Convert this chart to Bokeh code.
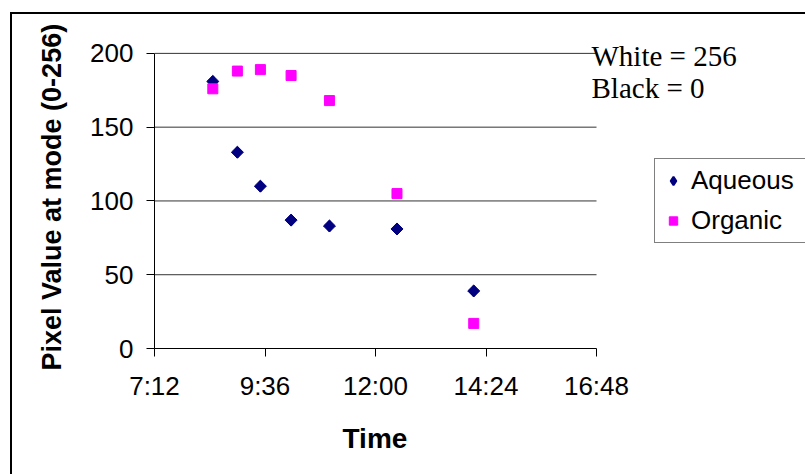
import numpy as np
from bokeh.plotting import figure
from bokeh.models import (FixedTicker, Legend, LegendItem, Label, Title,
                          ColumnDataSource)
from bokeh.embed import file_html
from bokeh.resources import INLINE

# ---- data ----
times = ["8:28", "9:00", "9:30", "10:10", "11:00", "12:28", "14:08"]
aqueous = [181, 133, 110, 87, 83, 81, 39]
organic = [176, 188, 189, 185, 168, 105, 17]
x_tick_labels = ["7:12", "9:36", "12:00", "14:24", "16:48"]
y_ticks = [0, 50, 100, 150, 200]


def to_min(s):
    h, m = s.split(":")
    return int(h) * 60 + int(m)


xm = [to_min(t) for t in times]
x_ticks = [to_min(t) for t in x_tick_labels]

# ---- layout (page pixels) ----
OX, OY = 12, 14                  # figure offset inside the page (chart border)
W, H = 805 - OX, 474 - OY
AX_L, AX_R, AX_T, AX_B = 154, 596, 53, 349   # axis extents on the page
FL = AX_L - OX                   # frame left in figure coords
FB = AX_B - OY                   # frame bottom in figure coords
frame_w = W - FL
frame_h = FB
px_per_x = (AX_R - AX_L) / (x_ticks[-1] - x_ticks[0])
px_per_y = (AX_B - AX_T) / (y_ticks[-1] - y_ticks[0])
x_end = x_ticks[0] + frame_w / px_per_x
y_end = y_ticks[0] + frame_h / px_per_y

p = figure(width=W, height=H, output_backend="svg", toolbar_location=None,
           title=None,
           x_range=(x_ticks[0], x_end), y_range=(y_ticks[0], y_end),
           min_border_left=FL, min_border_right=0,
           min_border_top=0, min_border_bottom=H - FB,
           margin=(OY, 0, 0, OX),
           styles={"box-shadow": "-2px -2px 0 0 black, -2px 0 0 0 black, 0 -2px 0 0 black"})
p.outline_line_color = None
p.background_fill_color = "white"
p.border_fill_color = "white"

# axes
for ax in (p.xaxis[0], p.yaxis[0]):
    ax.axis_line_color = "black"
    ax.axis_line_width = 1
    ax.major_tick_line_color = "black"
    ax.major_tick_out = 8
    ax.major_tick_in = 0
    ax.minor_tick_line_color = None
    ax.major_label_text_font = "Liberation Sans"
    ax.major_label_text_font_size = "26px"
    ax.major_label_text_color = "black"

p.xaxis[0].ticker = FixedTicker(ticks=x_ticks)
p.xaxis[0].bounds = (x_ticks[0], x_ticks[-1])
p.xaxis[0].major_label_overrides = {t: l for t, l in zip(x_ticks, x_tick_labels)}
p.xaxis[0].major_label_standoff = 14
p.yaxis[0].ticker = FixedTicker(ticks=y_ticks)
p.yaxis[0].bounds = (y_ticks[0], y_ticks[-1])
p.yaxis[0].major_label_standoff = 13

p.xgrid.visible = False
p.ygrid.visible = False
# horizontal gridlines across the axis extent only
p.segment(x0=x_ticks[0], x1=x_ticks[-1], y0=y_ticks[1:], y1=y_ticks[1:],
          line_color="#333333", line_width=1)

src = ColumnDataSource(dict(x=xm, aq=aqueous, org=organic))
# diamond-marker copy of the aqueous series, hidden under the rotated squares;
# used as the legend swatch (legend draws markers unrotated)
lg_aq = p.scatter("x", "aq", source=src, marker="diamond", size=10,
                  fill_color="#000080", line_color="#000080", line_width=2)
r_aq = p.scatter("x", "aq", source=src, marker="square", angle=np.pi / 4, size=8.5,
                 fill_color="#000080", line_color="#000080")
r_org = p.scatter("x", "org", source=src, marker="square", size=10,
                  fill_color="#FF00FF", line_color="#FF00FF")

legend = Legend(items=[LegendItem(label="Aqueous", renderers=[lg_aq]),
                       LegendItem(label="Organic", renderers=[r_org])],
                location=(654 - AX_L, AX_B - 244))
legend.label_text_font = "Liberation Sans"
legend.label_text_font_size = "26px"
legend.label_text_color = "black"
legend.border_line_color = "black"
legend.border_line_width = 1
legend.background_fill_color = "white"
legend.background_fill_alpha = 1
legend.glyph_width = 24
legend.glyph_height = 21
legend.label_height = 28
legend.label_width = 130
legend.spacing = 9
legend.padding = 6
legend.margin = 0
legend.label_standoff = 6
p.add_layout(legend, "center")

# annotation text
for txt, base in (("White = 256", 56), ("Black = 0", 88)):
    p.add_layout(Label(x=591 - AX_L, y=AX_B - base, x_units="screen", y_units="screen",
                       text=txt, text_font="Liberation Serif", text_font_size="29px",
                       text_color="black", text_baseline="alphabetic", text_align="left"))

# axis titles
p.add_layout(Title(text="Time", align="left", offset=342 - AX_L,
                   vertical_align="top", standoff=38,
                   text_font="Liberation Sans", text_font_style="bold",
                   text_font_size="28px", text_color="black"), "below")
p.add_layout(Title(text="Pixel Value at mode (0-256)", align="left",
                   offset=AX_B - 371, vertical_align="bottom", standoff=42,
                   text_font="Liberation Sans", text_font_style="bold",
                   text_font_size="27px", text_color="black"), "left")

open("out.html", "w").write(file_html(p, INLINE))
